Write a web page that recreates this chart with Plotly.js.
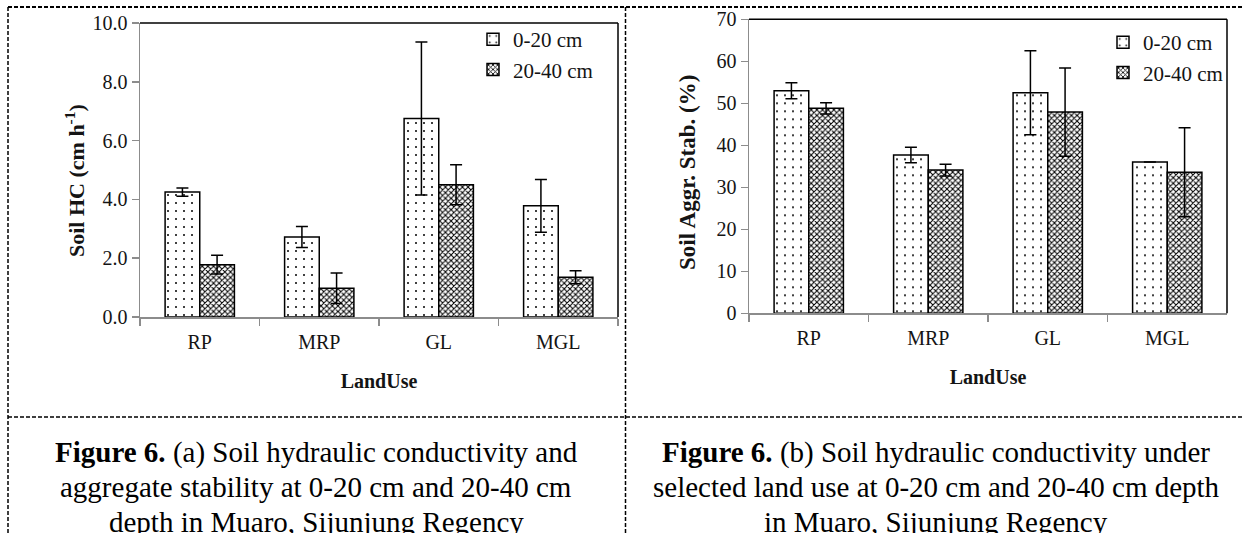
<!DOCTYPE html>
<html>
<head>
<meta charset="utf-8">
<script src="https://cdn.plot.ly/plotly-3.0.1.min.js"></script>
<style>html,body{margin:0;padding:0;background:#fff;}#chart{width:1244px;height:533px;}</style>
</head>
<body>
<div id="chart"></div>
<script>
// ---- data ----
const landUse = ["RP", "MRP", "GL", "MGL"];
const depthNames = ["0-20 cm", "20-40 cm"];

// (a) Soil hydraulic conductivity (cm h-1)
const hc0_20 = [4.25, 2.72, 6.75, 3.78];
const hc0_20Err = [0.14, 0.36, 2.6, 0.9];
const hc20_40 = [1.78, 0.98, 4.5, 1.35];
const hc20_40Err = [0.32, 0.52, 0.68, 0.22];

// (b) Soil aggregate stability (%)
const as0_20 = [53.0, 37.7, 52.5, 36.0];
const as0_20Err = [1.9, 1.85, 10.0, 0];
const as20_40 = [48.8, 34.1, 47.9, 33.6];
const as20_40Err = [1.35, 1.4, 10.5, 10.6];

const yTicksA = [0, 2, 4, 6, 8, 10];
const yTicksB = [0, 10, 20, 30, 40, 50, 60, 70];

const yTitleA = "<b>Soil HC (cm h<sup>-1</sup>)</b>";
const yTitleB = "<b>Soil Aggr. Stab. (%)</b>";
const xTitle = "<b>LandUse</b>";
const captionA = ["<b>Figure 6.</b> (a) Soil hydraulic conductivity and",
                  "aggregate stability at 0-20 cm and 20-40 cm",
                  "depth in Muaro, Sijunjung Regency"];
const captionB = ["<b>Figure 6.</b> (b) Soil hydraulic conductivity under",
                  "selected land use at 0-20 cm and 20-40 cm depth",
                  "in Muaro, Sijunjung Regency"];

// ---- styling ----
const W = 1244, H = 533;
const px = v => v / W;
const py = v => 1 - v / H;
const SERIF = "Liberation Serif, Times New Roman, serif";
const TXT = "#141414";
const GRAY = "#8c8c8c";

const pat020 = {shape: ".", size: 8, solidity: 0.05, fgcolor: "#000", bgcolor: "#fff", fillmode: "replace"};
const pat2040 = {shape: "x", size: 4, solidity: 0.45, fgcolor: "#000", bgcolor: "#fff", fillmode: "replace"};

function barTrace(y, err, name, pattern, xa, ya, legend) {
  return {
    type: "bar", x: landUse, y: y, name: name,
    xaxis: xa, yaxis: ya, legend: legend,
    marker: {color: "#fff", pattern: pattern, line: {color: "#000", width: 1.5}},
    error_y: {type: "data", array: err, visible: true, color: "#000", thickness: 1.5, width: 6}
  };
}

const traces = [
  barTrace(hc0_20, hc0_20Err, depthNames[0], pat020, "x", "y", "legend"),
  barTrace(hc20_40, hc20_40Err, depthNames[1], pat2040, "x", "y", "legend"),
  barTrace(as0_20, as0_20Err, depthNames[0], pat020, "x2", "y2", "legend2"),
  barTrace(as20_40, as20_40Err, depthNames[1], pat2040, "x2", "y2", "legend2")
];

function xAxis(domain, anchor) {
  return {
    domain: domain, anchor: anchor, type: "category",
    tickson: "boundaries", ticks: "outside", ticklen: 7, tickwidth: 1.5, tickcolor: GRAY,
    ticklabelstandoff: 6,
    showline: true, linecolor: GRAY, linewidth: 1.5, showgrid: false, zeroline: false,
    tickfont: {family: SERIF, size: 20, color: TXT},
    title: {text: xTitle, font: {family: SERIF, size: 20, color: TXT}, standoff: 22},
    fixedrange: true
  };
}
function yAxis(domain, anchor, range, ticks, fmt) {
  return {
    domain: domain, anchor: anchor, range: range,
    tickmode: "array", tickvals: ticks, tickformat: fmt,
    ticks: "outside", ticklen: 7, tickwidth: 1.5, tickcolor: GRAY,
    showline: true, linecolor: GRAY, linewidth: 1.5, showgrid: false, zeroline: false,
    tickfont: {family: SERIF, size: 20, color: TXT},
    fixedrange: true
  };
}

const dash = {color: "#000", width: 1.5, dash: "4px,2px"};
function border(xa, ya) {
  return [
    {type: "line", xref: xa + " domain", yref: ya + " domain", x0: 0, x1: 1, y0: 1, y1: 1, line: {color: "#000", width: 1.5}},
    {type: "line", xref: xa + " domain", yref: ya + " domain", x0: 1, x1: 1, y0: 0, y1: 1, line: {color: "#000", width: 1.5}}
  ];
}

function captionLines(lines, cx) {
  const ys = [452, 487, 522];
  return lines.map((t, i) => ({
    xref: "paper", yref: "paper", x: px(cx), y: py(ys[i]), xanchor: "center", yanchor: "middle",
    showarrow: false, text: t, font: {family: SERIF, size: 29, color: "#000"}
  }));
}

const layout = {
  width: W, height: H,
  margin: {l: 0, r: 0, t: 0, b: 0},
  paper_bgcolor: "#fff", plot_bgcolor: "#fff",
  barmode: "group", bargap: 0.42, bargroupgap: 0,
  showlegend: true,
  font: {family: SERIF, color: TXT},
  xaxis: xAxis([px(140), px(618)], "y"),
  yaxis: yAxis([py(317), py(23)], "x", [0, 10], yTicksA, ".1f"),
  xaxis2: xAxis([px(749), px(1227)], "y2"),
  yaxis2: yAxis([py(313.3), py(19.3)], "x2", [0, 70], yTicksB, "d"),
  legend: {x: px(473), y: py(19), xanchor: "left", yanchor: "top", bgcolor: "rgba(0,0,0,0)",
           font: {family: SERIF, size: 21, color: TXT}, itemwidth: 30, borderwidth: 0},
  legend2: {x: px(1103), y: py(22), xanchor: "left", yanchor: "top", bgcolor: "rgba(0,0,0,0)",
            font: {family: SERIF, size: 21, color: TXT}, itemwidth: 30, borderwidth: 0},
  shapes: [].concat(border("x", "y"), border("x2", "y2"), [
    {type: "line", xref: "paper", yref: "paper", x0: px(8), x1: 1, y0: py(7), y1: py(7), line: {color: "#000", width: 2, dash: "4px,2px"}},
    {type: "line", xref: "paper", yref: "paper", x0: px(8), x1: px(8), y0: 0, y1: py(7), line: dash},
    {type: "line", xref: "paper", yref: "paper", x0: px(625.5), x1: px(625.5), y0: 0, y1: py(7), line: dash},
    {type: "line", xref: "paper", yref: "paper", x0: px(8), x1: 1, y0: py(417), y1: py(417), line: dash}
  ]),
  annotations: [
    {xref: "paper", yref: "paper", x: px(75), y: py(181), xanchor: "center", yanchor: "middle", showarrow: false,
     textangle: -90, text: yTitleA, font: {family: SERIF, size: 22, color: TXT}},
    {xref: "paper", yref: "paper", x: px(687), y: py(173), xanchor: "center", yanchor: "middle", showarrow: false,
     textangle: -90, text: yTitleB, font: {family: SERIF, size: 23, color: TXT}}
  ].concat(captionLines(captionA, 316), captionLines(captionB, 936))
};

Plotly.newPlot("chart", traces, layout, {staticPlot: true, displayModeBar: false});
</script>
</body>
</html>
